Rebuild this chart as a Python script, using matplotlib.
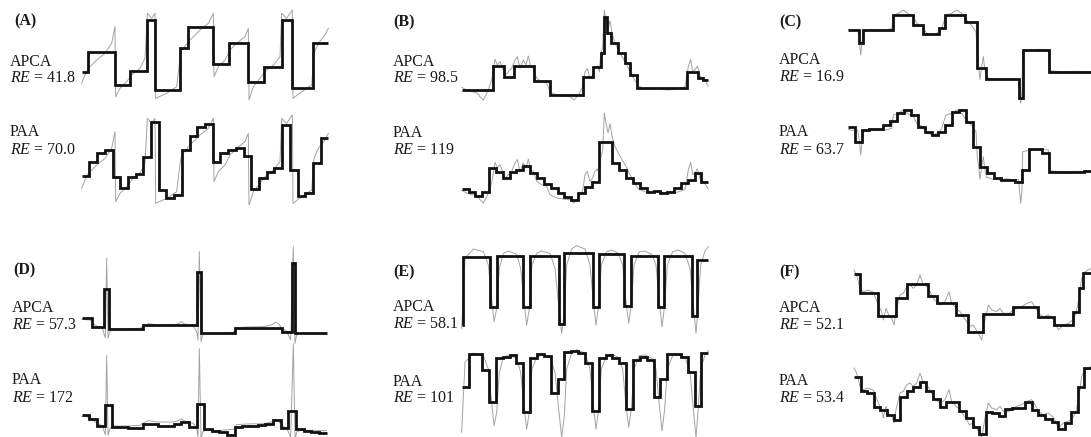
import numpy as np
import matplotlib
matplotlib.use("Agg")
import matplotlib.pyplot as plt
from matplotlib.transforms import ScaledTranslation

plt.rcParams['font.family'] = ['Liberation Serif', 'DejaVu Serif']
plt.rcParams['mathtext.fontset'] = 'custom'
plt.rcParams['mathtext.rm'] = 'Liberation Serif'
plt.rcParams['mathtext.it'] = 'Liberation Serif:italic'
plt.rcParams['mathtext.bf'] = 'Liberation Serif:bold'

# ---------------- data ----------------
panel_ids = ['A', 'B', 'C', 'D', 'E', 'F']
apca_re = ['41.8', '98.5', '16.9', '57.3', '58.1', '52.1']
paa_re = ['70.0', '119', '63.7', '172', '101', '53.4']

# Panel A
a_x = [245,255,265,290,315,335,345,347,360,380,395,420,435,442,455,465,467,500,530,540,545,570,600,625,640,642,
       655,675,690,710,735,745,747,760,780,795,820,840,845,860,877,879,905,935,942,955,975,985]
a_y = [250,225,205,180,160,130,80,290,265,245,225,205,175,40,55,40,295,280,260,175,150,120,90,70,40,230,
       200,180,150,130,110,85,300,260,235,215,195,170,40,55,30,295,275,255,160,130,105,85]
a_apca_edges = [245,265,345,390,442,465,540,565,640,688,745,792,845,877,940,985]
a_apca_vals = [215,155,255,213,60,270,143,80,193,130,245,200,60,265,130]
a_paa = [227,185,158,150,232,265,232,222,170,65,270,293,285,150,107,80,72,187,160,150,143,168,268,235,215,205,
         75,210,287,280,190,115]

# Panel B
b_x = [305,320,335,350,360,370,378,385,395,405,412,420,428,435,445,455,465,472,480,490,498,505,512,520,530,545,
       560,570,590,610,630,642,655,668,675,682,690,698,705,712,718,722,728,733,738,744,750,756,765,780,798,815,
       835,860,890,920,950,975,985,992,998,1005,1012,1020,1030,1040,1045]
b_y = [262,270,275,278,290,300,285,270,240,178,195,185,205,228,215,205,180,170,205,180,195,168,200,205,235,245,
       250,275,285,288,290,300,285,262,215,205,235,225,205,198,215,165,140,30,60,90,62,100,130,160,190,225,
       258,268,265,270,268,260,200,178,215,210,198,228,235,250,258]
b_apca_edges = [305,400,432,462,522,570,668,700,722,733,740,752,775,795,810,830,980,1015,1030,1045]
b_apca_vals = [270,197,230,197,243,285,232,200,160,52,100,128,160,190,225,265,217,235,240]
b_paa = [568,575,588,575,505,515,535,515,510,497,520,535,552,565,580,592,600,580,560,545,425,425,490,510,535,
         550,565,575,572,578,575,565,548,540,520,545]

# Panel C
c_x = [355,370,383,388,392,396,402,430,460,485,490,505,520,535,550,560,578,590,610,628,635,648,665,680,695,705,
       720,738,742,746,750,755,760,764,770,790,810,830,850,865,868,872,876,878,900,930,955,958,990,1040,1083]
c_y = [88,92,90,120,165,125,92,90,92,85,45,40,30,42,50,70,80,100,105,95,85,45,40,30,40,55,
       70,95,170,200,238,200,170,205,232,238,240,236,240,238,265,310,270,155,150,148,150,212,215,214,215]
c_apca_edges = [355,388,400,488,550,578,628,645,705,740,768,868,878,958,1083]
c_apca_vals = [90,130,90,45,75,103,85,45,65,205,238,295,150,215]
c_paa = [380,425,390,388,388,375,362,338,330,345,380,395,405,395,375,335,330,365,440,500,520,535,540,540,545,
         510,448,448,458,515,515,515,515,515,513]

# Panel D
d_x = [245,270,285,300,308,313,316,320,324,328,335,380,420,432,445,460,475,520,535,545,552,565,580,590,594,598,
       603,608,615,660,700,710,740,790,815,825,835,845,860,872,880,885,890,900,940,980]
d_y = [283,285,300,308,312,330,338,100,340,325,312,312,310,302,296,298,300,300,296,290,296,300,304,320,345,80,
       350,330,326,325,322,308,306,305,300,292,295,310,318,345,65,355,330,325,325,326]
d_apca_edges = [245,275,312,326,430,590,603,705,845,875,884,980]
d_apca_vals = [280,305,192,312,300,140,325,308,320,115,325]
d_paa = [570,582,602,540,605,607,608,610,598,598,602,603,597,592,606,538,612,618,622,630,605,603,603,600,598,
         585,610,558,612,618,620,625]

# Panel E
e_x = [305,315,340,370,385,395,402,410,418,430,445,470,482,492,500,508,516,530,545,570,585,597,605,613,620,635,
       650,675,690,700,708,716,724,740,755,775,788,798,806,814,822,838,855,875,888,898,906,914,922,938,955,975,
       990,1000,1008,1014,1022,1035,1045]
e_y = [310,100,72,80,120,220,290,250,130,85,78,88,130,230,300,250,120,85,78,85,130,250,325,260,120,72,
       62,72,120,230,300,240,120,80,75,85,120,230,295,240,120,80,78,88,120,230,305,240,120,80,75,85,
       130,240,325,250,120,78,65]
e_apca_edges = [305,308,390,412,490,510,597,612,700,718,793,812,893,912,995,1012,1045]
e_apca_vals = [300,95,245,92,245,92,298,83,245,88,242,92,245,92,272,105]
e_paa = [140,42,42,90,187,55,52,45,68,215,55,42,48,160,118,35,32,38,68,212,55,45,55,68,208,60,50,60,170,118,
         42,42,50,95,197,38]

# Panel F
f_x = [12,20,30,40,55,70,85,95,100,108,118,125,132,138,150,160,170,180,190,200,210,218,230,240,250,262,272,285,
       297,305,318,330,340,350,358,370,385,395,405,415,425,440,450,460,478,490,500,515,530,545,555,565,580,595,
       612,625,640,655,668,678,688,695,705,715,723]
f_y = [45,60,100,110,105,112,150,170,195,160,185,190,210,170,120,115,95,90,100,90,60,85,95,110,130,145,150,140,
       110,145,160,170,185,200,215,210,235,255,195,150,165,170,160,175,175,165,160,155,145,140,155,175,185,180,
       195,225,210,205,195,175,125,70,50,45,40]
f_apca_edges = [12,30,85,138,172,235,262,318,355,400,488,565,612,668,688,700,723]
f_apca_vals = [58,115,182,130,88,122,145,180,230,177,155,187,210,172,100,55]
f_paa = [365,408,415,455,465,480,495,425,408,395,382,408,432,455,440,442,468,490,515,538,470,475,482,462,460,
         458,440,465,480,492,500,522,505,470,395,340]

series = {
    'A': (a_x, a_y, a_apca_edges, a_apca_vals, a_paa),
    'B': (b_x, b_y, b_apca_edges, b_apca_vals, b_paa),
    'C': (c_x, c_y, c_apca_edges, c_apca_vals, c_paa),
    'D': (d_x, d_y, d_apca_edges, d_apca_vals, d_paa),
    'E': (e_x, e_y, e_apca_edges, e_apca_vals, e_paa),
    'F': (f_x, f_y, f_apca_edges, f_apca_vals, f_paa),
}

# ---------------- layout (pixel geometry) ----------------
W, H, DPI = 1091, 437, 100
S = 3.0  # data units per pixel
layout = {
    # x-spec (origin px, x0, x1), row1 y-spec, row2 y-spec, gray offset px,
    # title x, label x, label ys
    'A': ((0, 240, 990), (0, 0, 330), (100, 0, 330), 105, 14, 10, (21, 62, 78, 132, 150)),
    'B': ((360, 300, 1050), (0, 0, 330), (0, 300, 630), 103, 393, 393, (22, 62, 78, 133, 150)),
    'C': ((730, 350, 1083), (0, 0, 330), (0, 300, 630), 100, 779, 779, (22, 60, 77, 132, 150)),
    'D': ((0, 240, 990), (225, 40, 360), (225, 330, 636), 97, 13, 12, (270, 308, 325, 380, 398)),
    'E': ((360, 295, 1050), (225, 40, 345), (340, 0, 291), 104, 393, 393, (272, 307, 324, 382, 398)),
    'F': ((850, 0, 723), (255, 0, 270), (255, 270, 546), 98, 779, 779, (272, 308, 325, 381, 398)),
}

fig = plt.figure(figsize=(W / DPI, H / DPI), dpi=DPI)
fig.patch.set_facecolor('white')

GRAY = '#a3a3a3'
BLACK = '#111111'
TXT = '#1a1a1a'
FS = 11.5


def make_axes(xs, ys):
    ox, x0, x1 = xs
    oy, y0, y1 = ys
    left = ox + x0 / S
    right = ox + x1 / S
    top = oy + y0 / S
    bottom = oy + y1 / S
    ax = fig.add_axes([left / W, 1 - bottom / H, (right - left) / W, (bottom - top) / H])
    ax.set_xlim(x0, x1)
    ax.set_ylim(y1, y0)
    ax.axis('off')
    return ax


for pid, re1, re2 in zip(panel_ids, apca_re, paa_re):
    gx, gy, ae, av, pv = series[pid]
    xs, ys1, ys2, off, tx, lx, lys = layout[pid]
    ax1 = make_axes(xs, ys1)
    ax2 = make_axes(xs, ys2)

    # original series (gray) in both rows
    ax1.plot(gx, gy, color=GRAY, lw=0.7, clip_on=False, zorder=1)
    shift = ScaledTranslation(0, -off / DPI, fig.dpi_scale_trans)
    ax2.plot(gx, gy, color=GRAY, lw=0.7, clip_on=False, zorder=1,
             transform=ax1.transData + shift)

    # APCA (adaptive segments)
    ax1.stairs(av, ae, baseline=None, color=BLACK, lw=2.0, clip_on=False, zorder=3)
    # PAA (equal-length segments over the series length)
    paa_edges = np.linspace(gx[0], gx[-1], len(pv) + 1)
    ax2.stairs(pv, paa_edges, baseline=None, color=BLACK, lw=2.0, clip_on=False, zorder=3)

    ty, a1, a2, p1, p2 = lys
    fig.text(tx / W, 1 - ty / H, f'({pid})', fontsize=FS, fontweight='bold', va='center', ha='left', color=TXT)
    fig.text(lx / W, 1 - a1 / H, 'APCA', fontsize=FS, va='center', ha='left', color=TXT)
    fig.text(lx / W, 1 - a2 / H, f'$RE$ = {re1}', fontsize=FS, va='center', ha='left', color=TXT)
    fig.text(lx / W, 1 - p1 / H, 'PAA', fontsize=FS, va='center', ha='left', color=TXT)
    fig.text(lx / W, 1 - p2 / H, f'$RE$ = {re2}', fontsize=FS, va='center', ha='left', color=TXT)

fig.savefig('out.png', dpi=DPI, facecolor='white')
